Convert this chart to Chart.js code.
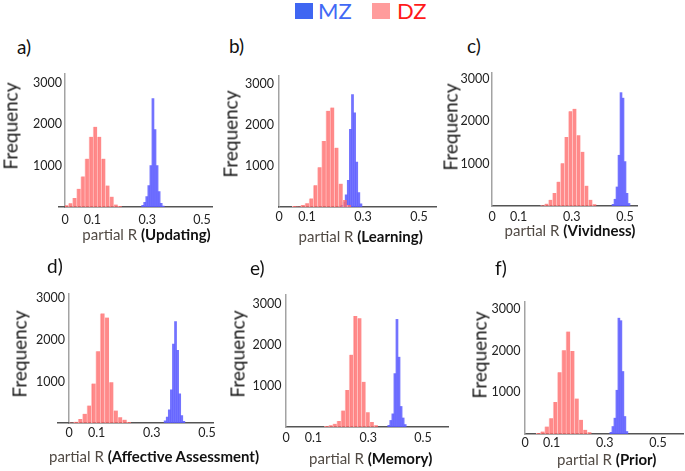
<!DOCTYPE html>
<html>
<head>
<meta charset="utf-8">
<script src="https://cdn.jsdelivr.net/npm/chart.js@4.4.1/dist/chart.umd.min.js"></script>
<style>
  body { margin: 0; background: #fff; }
  #fig { position: relative; width: 685px; height: 471px; overflow: hidden; font-family: Lato, sans-serif; color: #111; }
  #fig canvas { position: absolute; }
  .txt { position: absolute; line-height: 1; white-space: nowrap; }
  .sq { position: absolute; width: 18px; height: 16px; top: 3px; }
  .freq { font-size: 19px; transform: translate(-50%, -50%) rotate(-90deg); color: #1a1a1a; }
  .letter { font-size: 19px; color: #111; }
  .xt { font-size: 15px; transform: translateX(-50%); }
  .xt span { color: #514a44; }
  .xt b { color: #111; font-weight: 700; }
</style>
</head>
<body>
<div id="fig">
  <div class="sq" style="left:295px; background:#3f66f2;"></div>
  <div class="txt" style="left:318px; top:0px; font-size:22px; color:#4169f5;">MZ</div>
  <div class="sq" style="left:372px; background:#ff9c9c;"></div>
  <div class="txt" style="left:397px; top:0px; font-size:22px; color:#ff1a1a;">DZ</div>
</div>
<script>
// tick values shared by all panels
const xTicks = [0, 0.1, 0.3, 0.5];
const yTicks = [1000, 2000, 3000];

// a) Updating
const updDzBins = [0.005, 0.020, 0.035, 0.050, 0.065, 0.080, 0.095, 0.110, 0.125, 0.140, 0.155, 0.170, 0.185, 0.200];
const updDzCounts = [40, 90, 220, 440, 740, 1170, 1700, 1940, 1700, 1170, 520, 250, 60, 25];
const updMzBins = [0.2835, 0.291, 0.2985, 0.306, 0.3135, 0.321, 0.3285, 0.336, 0.3435, 0.351, 0.3585];
const updMzCounts = [40, 110, 250, 520, 1000, 2620, 1870, 1000, 370, 90, 25];

// b) Learning
const lrnDzBins = [0.055, 0.070, 0.085, 0.100, 0.115, 0.130, 0.145, 0.160, 0.175, 0.190, 0.205, 0.220, 0.235, 0.250];
const lrnDzCounts = [25, 15, 50, 90, 210, 530, 970, 1610, 2350, 2430, 1450, 570, 170, 50];
const lrnMzBins = [0.225, 0.2325, 0.240, 0.2475, 0.255, 0.2625, 0.270, 0.2775, 0.285, 0.2925];
const lrnMzCounts = [40, 120, 300, 650, 1900, 2750, 2300, 1100, 350, 80];

// c) Vividness
const vivDzBins = [0.190, 0.205, 0.220, 0.235, 0.250, 0.265, 0.280, 0.295, 0.310, 0.325, 0.340, 0.355, 0.370, 0.385];
const vivDzCounts = [20, 55, 145, 305, 575, 1010, 1630, 2240, 2300, 1670, 1280, 480, 145, 40];
const vivMzBins = [0.455, 0.4625, 0.470, 0.4775, 0.485, 0.4925, 0.500, 0.5075, 0.515];
const vivMzCounts = [40, 160, 450, 1200, 2680, 2550, 1050, 300, 60];

// d) Affective Assessment
const affDzBins = [0.009, 0.025, 0.041, 0.057, 0.073, 0.089, 0.105, 0.121, 0.137, 0.153, 0.169, 0.185, 0.201, 0.217];
const affDzCounts = [10, 30, 95, 220, 420, 950, 1730, 2640, 2540, 980, 300, 140, 80, 25];
const affMzBins = [0.3485, 0.356, 0.3635, 0.371, 0.3785, 0.386, 0.3935, 0.401, 0.4085, 0.416];
const affMzCounts = [50, 140, 320, 800, 1900, 2440, 1750, 700, 180, 40];

// e) Memory
const memDzBins = [0.148, 0.163, 0.178, 0.193, 0.208, 0.223, 0.238, 0.253, 0.268, 0.283, 0.298, 0.313, 0.328];
const memDzCounts = [25, 40, 80, 145, 400, 900, 1760, 2700, 2650, 1100, 360, 120, 40];
const memMzBins = [0.375, 0.3825, 0.390, 0.3975, 0.405, 0.4125, 0.420, 0.4275, 0.435];
const memMzCounts = [40, 160, 320, 1300, 2620, 1700, 500, 220, 60];

// f) Prior
const priDzBins = [0.050, 0.066, 0.082, 0.098, 0.114, 0.130, 0.146, 0.162, 0.178, 0.194, 0.210, 0.226, 0.242];
const priDzCounts = [25, 60, 180, 380, 770, 1480, 2010, 2460, 1990, 850, 340, 100, 40];
const priMzBins = [0.323, 0.3305, 0.338, 0.3455, 0.353, 0.3605, 0.368, 0.3755, 0.383];
const priMzCounts = [40, 180, 380, 1050, 2780, 2720, 1500, 420, 60];

const DZ_FILL = 'rgba(255, 105, 105, 0.78)';
const DZ_EDGE = 'rgba(255, 185, 185, 0.9)';
const MZ_FILL = 'rgba(90, 90, 255, 0.85)';
const X_LINE = '#555';
const Y_LINE = '#a3a3a3';

Chart.defaults.font.family = 'Lato, sans-serif';

// where each panel sits on the page (pixels); left is where x = 0 falls
const panels = [
  { letter: 'a)', trait: 'Updating', dzBins: updDzBins, dzCounts: updDzCounts, mzBins: updMzBins, mzCounts: updMzCounts,
    left: 65, right: 212, top: 73, base: 207, perUnit: 274, per1000: 41.5, stub: 7, yPad: 3, xPad: 5,
    letterAt: [17, 54], freqAt: [10, 126], titleAt: [146.5, 240] },
  { letter: 'b)', trait: 'Learning', dzBins: lrnDzBins, dzCounts: lrnDzCounts, mzBins: lrnMzBins, mzCounts: lrnMzCounts,
    left: 279, right: 436, top: 73, base: 207, perUnit: 280, per1000: 41.7, stub: 1, yPad: 5, xPad: 2,
    letterAt: [229, 53], freqAt: [230, 134], titleAt: [360.7, 242] },
  { letter: 'c)', trait: 'Vividness', dzBins: vivDzBins, dzCounts: vivDzCounts, mzBins: vivMzBins, mzCounts: vivMzCounts,
    left: 492, right: 637, top: 73, base: 206, perUnit: 266, per1000: 42.3, stub: 0, yPad: 2.5, xPad: 3,
    letterAt: [467, 53], freqAt: [450, 127], titleAt: [570, 236] },
  { letter: 'd)', trait: 'Affective Assessment', dzBins: affDzBins, dzCounts: affDzCounts, mzBins: affMzBins, mzCounts: affMzCounts,
    left: 69, right: 213, top: 292, base: 423, perUnit: 276, per1000: 42, stub: 12, yPad: 4, xPad: 2,
    letterAt: [47, 273], freqAt: [18.5, 354], titleAt: [154, 462] },
  { letter: 'e)', trait: 'Memory', dzBins: memDzBins, dzCounts: memDzCounts, mzBins: memMzBins, mzCounts: memMzCounts,
    left: 286, right: 448, top: 293, base: 427, perUnit: 274, per1000: 41.7, stub: 0, yPad: 4.5, xPad: 3,
    letterAt: [250, 275], freqAt: [236.5, 354], titleAt: [370.7, 464] },
  { letter: 'f)', trait: 'Prior', dzBins: priDzBins, dzCounts: priDzCounts, mzBins: priMzBins, mzCounts: priMzCounts,
    left: 525, right: 683, top: 300, base: 434, perUnit: 266, per1000: 42.3, stub: 0, yPad: 4.5, xPad: 1,
    letterAt: [495, 275], freqAt: [478.5, 355], titleAt: [606.8, 465] }
];

const Y_W = 45, X_H = 24, PAD_TOP = 10, PAD_RIGHT = 10;
const fig = document.getElementById('fig');

// the x axis line runs a little to the left of the y axis in some panels
const axisStub = {
  id: 'axisStub',
  afterDraw(chart, args, opts) {
    if (!opts.length) return;
    const { ctx, chartArea } = chart;
    const y = Math.round(chartArea.bottom - 0.75) + 0.75;
    ctx.save();
    ctx.strokeStyle = X_LINE;
    ctx.lineWidth = 1.5;
    ctx.beginPath();
    ctx.moveTo(chartArea.left - opts.length, y);
    ctx.lineTo(chartArea.left, y);
    ctx.stroke();
    ctx.restore();
  }
};

function toPoints(bins, counts) {
  return bins.map((b, i) => ({ x: b, y: counts[i] }));
}

function addText(cls, html, left, top) {
  const d = document.createElement('div');
  d.className = 'txt ' + cls;
  d.innerHTML = html;
  d.style.left = left + 'px';
  d.style.top = top + 'px';
  fig.appendChild(d);
}

function drawPanel(p) {
  const canvas = document.createElement('canvas');
  const cl = p.left - Y_W, ct = p.top - PAD_TOP;
  const w = Y_W + (p.right - p.left) + PAD_RIGHT;
  const h = p.base - ct + X_H;
  canvas.width = w; canvas.height = h;
  canvas.style.left = cl + 'px'; canvas.style.top = ct + 'px';
  canvas.style.width = w + 'px'; canvas.style.height = h + 'px';
  fig.appendChild(canvas);

  const xMax = (p.right - p.left) / p.perUnit;
  const yMax = (p.base - p.top) / p.per1000 * 1000;

  new Chart(canvas.getContext('2d'), {
    type: 'bar',
    data: {
      datasets: [
        { label: 'DZ', data: toPoints(p.dzBins, p.dzCounts), xAxisID: 'x',
          backgroundColor: DZ_FILL, borderColor: DZ_EDGE,
          borderWidth: { left: 1, top: 0, right: 0, bottom: 0 },
          grouped: false, categoryPercentage: 1, barPercentage: 1 },
        { label: 'MZ', data: toPoints(p.mzBins, p.mzCounts), xAxisID: 'x2',
          backgroundColor: MZ_FILL, borderWidth: 0,
          grouped: false, categoryPercentage: 1, barPercentage: 1 }
      ]
    },
    options: {
      responsive: false,
      animation: false,
      layout: { padding: { top: PAD_TOP, right: PAD_RIGHT, left: 0, bottom: 0 } },
      plugins: { legend: { display: false }, tooltip: { enabled: false }, axisStub: { length: p.stub } },
      scales: {
        x: {
          type: 'linear', min: 0, max: xMax, offset: false,
          afterBuildTicks: ax => { ax.ticks = xTicks.map(v => ({ value: v })); },
          afterFit: ax => { ax.height = X_H; },
          grid: { display: false, offset: false, drawTicks: false },
          border: { display: true, color: X_LINE, width: 1.5 },
          ticks: { padding: p.xPad, autoSkip: false, maxRotation: 0, color: '#222',
                   font: { size: 12.5 }, callback: v => String(v) }
        },
        x2: { type: 'linear', min: 0, max: xMax, offset: false, display: false },
        y: {
          min: 0, max: yMax,
          afterBuildTicks: ax => { ax.ticks = yTicks.map(v => ({ value: v })); },
          afterFit: ax => { ax.width = Y_W; },
          grid: { display: false, drawTicks: false },
          border: { display: true, color: Y_LINE, width: 1.5 },
          ticks: { padding: p.yPad, color: '#222', font: { size: 12.5 }, callback: v => String(v) }
        }
      }
    },
    plugins: [axisStub]
  });

  addText('letter', p.letter, p.letterAt[0], p.letterAt[1] - 16.9);
  addText('freq', 'Frequency', p.freqAt[0], p.freqAt[1]);
  addText('xt', '<span>partial R </span><b>(' + p.trait + ')</b>', p.titleAt[0], p.titleAt[1] - 13.3);
}

panels.forEach(drawPanel);
</script>
</body>
</html>
